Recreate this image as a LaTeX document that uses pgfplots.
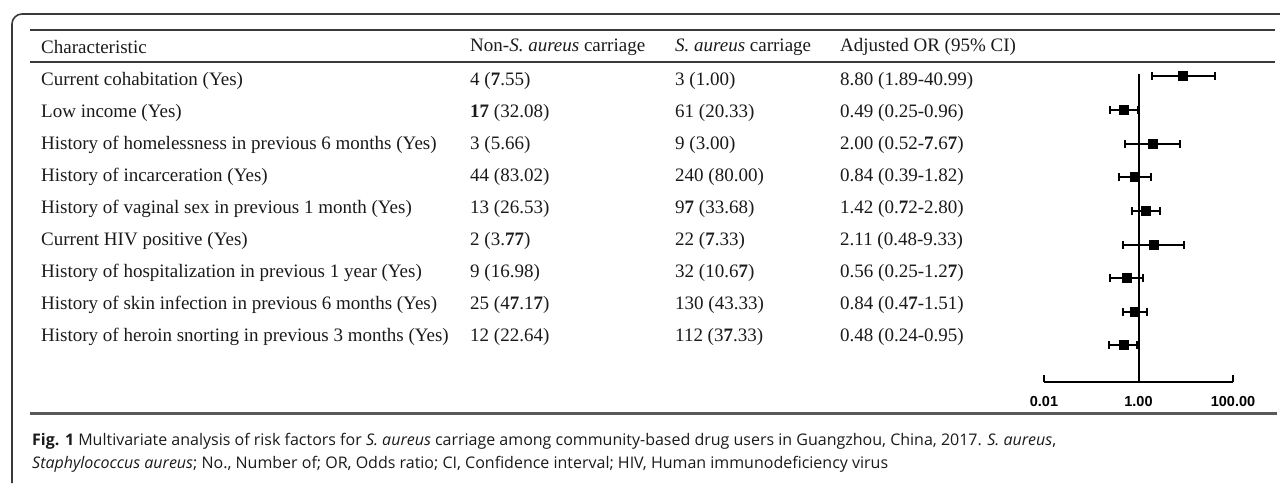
\documentclass[border=0pt]{standalone}
\usepackage{pgfplots}
\pgfplotsset{compat=1.18}
\usepackage{pgfplotstable}
\usepackage{fontspec}
\setmainfont{Liberation Serif}
\newfontfamily\capfont{Open Sans}
\newfontfamily\tickfont{Liberation Sans}
\definecolor{rulegray}{HTML}{3A3A3A}
\definecolor{txt}{HTML}{1A1A1A}
\newcommand\B{\textbf{7}}

% row position (pixel y from top, negated), odds ratio, minus and plus errors
\pgfplotstableread{
y     or    em    ep
-76   8.80  6.91  32.19
-110  0.49  0.24  0.47
-144  2.00  1.48  5.67
-177  0.84  0.45  0.98
-211  1.42  0.70  1.38
-245  2.11  1.63  7.22
-278  0.56  0.31  0.71
-312  0.84  0.37  0.67
-345  0.48  0.24  0.47
}\ordata

\begin{document}
\begin{tikzpicture}
\begin{scope}[x=1pt,y=-1pt]
\path[use as bounding box] (0,0) rectangle (1280,483);
% frame
\draw[rulegray,line width=1.6pt,rounded corners=10pt] (12,483) -- (12,14) -- (1281,14);
% table rules
\draw[rulegray,line width=1.3pt] (30,30) -- (1275,30);
\draw[rulegray,line width=1.3pt] (30,62) -- (1275,62);
\draw[black!65,line width=3pt] (30,413) -- (1277,413);

\tikzset{cell/.style={anchor=west,inner sep=0pt,text=txt,font=\fontsize{19}{22}\selectfont}}
% header
\node[cell] at (41,47) {Characteristic};
\node[cell] at (470,47) {Non-\textit{S. aureus} carriage};
\node[cell] at (675,47) {\textit{S. aureus} carriage};
\node[cell] at (840,47) {Adjusted OR (95\% CI)};
% rows
\foreach \yy/\a/\b/\c/\d in {
 81/Current cohabitation (Yes)/4 (\B.55)/3 (1.00)/8.80 (1.89-40.99),
 113/Low income (Yes)/\textbf{17} (32.08)/61 (20.33)/0.49 (0.25-0.96),
 145/History of homelessness in previous 6 months (Yes)/3 (5.66)/9 (3.00)/2.00 (0.52-\B.6\B),
 177/History of incarceration (Yes)/44 (83.02)/240 (80.00)/0.84 (0.39-1.82),
 209/History of vaginal sex in previous 1 month (Yes)/13 (26.53)/9\B{} (33.68)/1.42 (0.\B2-2.80),
 241/Current HIV positive (Yes)/2 (3.\B\B)/22 (\B.33)/2.11 (0.48-9.33),
 273/History of hospitalization in previous 1 year (Yes)/9 (16.98)/32 (10.6\B)/0.56 (0.25-1.2\B),
 305/History of skin infection in previous 6 months (Yes)/25 (4\B.1\B)/130 (43.33)/0.84 (0.4\B-1.51),
 337/History of heroin snorting in previous 3 months (Yes)/12 (22.64)/112 (3\B.33)/0.48 (0.24-0.95)}{
 \node[cell] at (41,\yy) {\a};
 \node[cell] at (470,\yy) {\b};
 \node[cell] at (675,\yy) {\c};
 \node[cell] at (840,\yy) {\d};
}
% caption
\node[anchor=west,inner sep=0pt,text=txt,font=\capfont\fontsize{16}{19}\selectfont] at (32,441)
 {\textbf{Fig. 1} Multivariate analysis of risk factors for \textit{S. aureus} carriage among community-based drug users in Guangzhou, China, 2017. \textit{S. aureus},};
\node[anchor=west,inner sep=0pt,text=txt,font=\capfont\fontsize{16}{19}\selectfont] at (32,464)
 {\textit{Staphylococcus aureus}; No., Number of; OR, Odds ratio; CI, Confidence interval; HIV, Human immunodeficiency virus};
\end{scope}

\begin{axis}[
  at={(1044pt,-382pt)}, anchor=south west,
  scale only axis, width=189pt, height=322pt,
  xmode=log, xmin=0.01, xmax=100,
  ymin=-382, ymax=-60,
  clip=false,
  axis x line=bottom, axis y line=none,
  x axis line style={-, line width=2pt},
  xtick={0.01,1,100}, xticklabels={0.01,1.00,100.00},
  minor xtick={},
  tick align=inside, major tick length=7pt,
  every tick/.style={black, line width=2pt},
  xticklabel style={font=\tickfont\bfseries\fontsize{14.5}{16}\selectfont, yshift=-11pt},
  ytick=\empty,
]
\addplot[black, line width=2pt] coordinates {(1,-74) (1,-382)};
\addplot[black, only marks, mark=square*, mark size=4.5pt,
  error bars/.cd, x dir=both, x explicit,
  error bar style={line width=2pt, black},
  error mark options={line width=2pt, mark size=4.2pt, rotate=90, black}]
  table[x=or, y=y, x error minus=em, x error plus=ep] {\ordata};
\end{axis}
\end{tikzpicture}
\end{document}
